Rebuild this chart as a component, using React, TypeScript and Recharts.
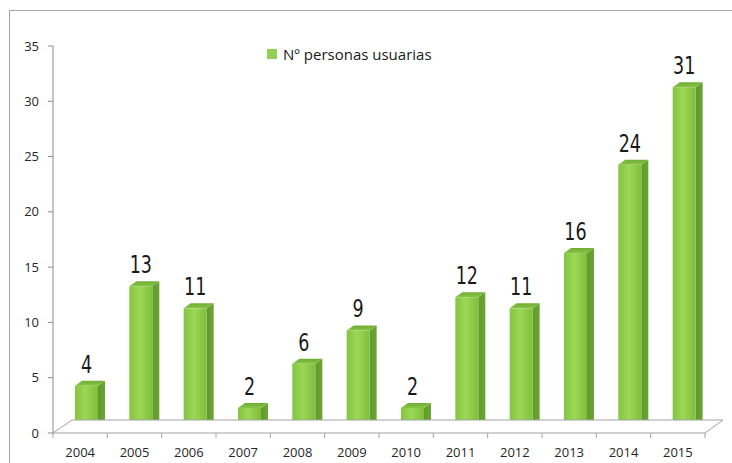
import { BarChart, Bar, XAxis, YAxis, Legend, LabelList, ReferenceLine } from 'recharts';

const years = ['2004', '2005', '2006', '2007', '2008', '2009', '2010', '2011', '2012', '2013', '2014', '2015'];
const users = [4, 13, 11, 2, 6, 9, 2, 12, 11, 16, 24, 31];
const yTicks = [0, 5, 10, 15, 20, 25, 30, 35];
const seriesName = 'Nº personas usuarias';

const data = years.map((year, i) => ({ year, users: users[i] }));

const FONT = "'Open Sans', 'Noto Sans', sans-serif";
const LABEL_FONT = "'Liberation Sans Narrow', 'DejaVu Sans Condensed', sans-serif";

// 3d offsets of each bar
const SHIFT_X = 6;
const SHIFT_Y = -3;
const DEPTH_X = 7;
const DEPTH_Y = 5;

const Bar3D = (props: any) => {
  const { x, y, width, height } = props;
  if (height <= 0) return null;
  const fx = x + SHIFT_X;
  const fy = y + SHIFT_Y;
  const side = `${fx + width},${fy} ${fx + width + DEPTH_X},${fy - DEPTH_Y} ${fx + width + DEPTH_X},${fy + height - DEPTH_Y} ${fx + width},${fy + height}`;
  const top = `${fx},${fy} ${fx + DEPTH_X},${fy - DEPTH_Y} ${fx + width + DEPTH_X},${fy - DEPTH_Y} ${fx + width},${fy}`;
  return (
    <g>
      <polygon points={side} fill="url(#sideGrad)" />
      <polygon points={top} fill="url(#topGrad)" />
      <rect x={fx} y={fy} width={width} height={height} fill="url(#frontGrad)" />
    </g>
  );
};

const Floor = (props: any) => {
  const { x1, y1, x2 } = props;
  const bw = (x2 - x1) / years.length;
  const pts = `${x1},${y1} ${x1 + 19},${y1 - 13} ${x2 + 18},${y1 - 13} ${x2},${y1}`;
  return (
    <g>
      <polygon points={pts} fill="#fff" stroke="#a3a3a3" strokeWidth={1} />
      {Array.from({ length: years.length + 1 }).map((_, i) => (
        <line key={i} x1={x1 + i * bw} x2={x1 + i * bw} y1={y1} y2={y1 + 5} stroke="#a3a3a3" />
      ))}
    </g>
  );
};

const ValueLabel = (props: any) => {
  const { x, y, width, value } = props;
  const cx = x + width / 2 + SHIFT_X;
  const by = y + SHIFT_Y - 13;
  return (
    <text
      transform={`translate(${cx},${by}) scale(0.78,1)`}
      textAnchor="middle"
      fontFamily={LABEL_FONT}
      fontSize={25}
      fill="#1a1a1a"
    >
      {value}
    </text>
  );
};

const YearTick = (props: any) => {
  const { x, y, payload } = props;
  return (
    <text x={x} y={y + 16} textAnchor="middle" fontFamily={FONT} fontSize={13} fill="#262626">
      {payload.value}
    </text>
  );
};

const LegendBox = () => (
  <div style={{ display: 'flex', alignItems: 'center', fontFamily: FONT, fontSize: 15, color: '#1a1a1a', whiteSpace: 'nowrap' }}>
    <span style={{ width: 10, height: 10, background: '#92d050', marginRight: 6, display: 'inline-block' }} />
    {seriesName}
  </div>
);

export default function App() {
  return (
    <div style={{ position: 'absolute', left: 0, top: 0, width: 732, height: 463, background: '#fff', overflow: 'hidden' }}>
      <div
        style={{
          position: 'absolute',
          left: 9,
          top: 10,
          width: 722,
          height: 453,
          borderTop: '1px solid #a6a6a6',
          borderLeft: '1px solid #a6a6a6',
        }}
      />
      <BarChart
        width={732}
        height={463}
        data={data}
        margin={{ top: 46, right: 27, bottom: 0, left: 0 }}
        barCategoryGap={0}
        style={{ position: 'absolute', left: 0, top: 0 }}
      >
        <defs>
          <linearGradient id="frontGrad" x1="0" y1="0" x2="1" y2="0">
            <stop offset="0%" stopColor="#84c441" />
            <stop offset="45%" stopColor="#9ad856" />
            <stop offset="100%" stopColor="#7fbd3b" />
          </linearGradient>
          <linearGradient id="sideGrad" x1="0" y1="0" x2="1" y2="0">
            <stop offset="0%" stopColor="#5f9a2c" />
            <stop offset="100%" stopColor="#6aa534" />
          </linearGradient>
          <linearGradient id="topGrad" x1="0" y1="1" x2="0" y2="0">
            <stop offset="0%" stopColor="#86c345" />
            <stop offset="100%" stopColor="#6fae33" />
          </linearGradient>
        </defs>
        <ReferenceLine y={0} shape={<Floor />} />
        <XAxis dataKey="year" height={30} axisLine={false} tickLine={false} tick={<YearTick />} interval={0} />
        <YAxis
          domain={[0, 35]}
          ticks={yTicks}
          width={53}
          tickSize={5}
          tickMargin={9}
          axisLine={{ stroke: '#8c8c8c' }}
          tickLine={{ stroke: '#8c8c8c' }}
          tick={{ fontFamily: FONT, fontSize: 13, fill: '#262626' }}
        />
        <Legend
          layout="horizontal"
          verticalAlign="middle"
          align="center"
          wrapperStyle={{ top: 44, left: 267, width: 'auto' }}
          content={<LegendBox />}
        />
        <Bar dataKey="users" name={seriesName} barSize={23} shape={<Bar3D />} isAnimationActive={false}>
          <LabelList dataKey="users" content={<ValueLabel />} />
        </Bar>
      </BarChart>
    </div>
  );
}
